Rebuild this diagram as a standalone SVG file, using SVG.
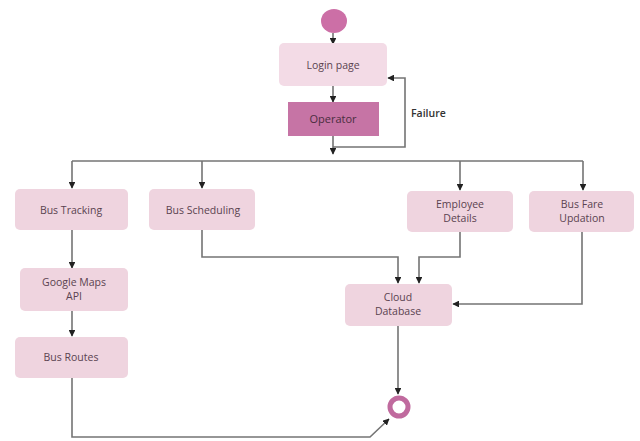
<svg xmlns="http://www.w3.org/2000/svg" width="640" height="441" viewBox="0 0 640 441">
  <defs>
    <marker id="arr" viewBox="0 0 10 10" refX="9" refY="5" markerWidth="4.2" markerHeight="4.2" orient="auto-start-reverse">
      <path d="M0,0 L10,5 L0,10 z" fill="#222"/>
    </marker>
    <style>
      .box { fill: #efd4df; }
      .box-light { fill: #f3dbe6; }
      .box-dark { fill: #c674a5; }
      .lbl { font-family: "Open Sans", "Noto Sans", sans-serif; font-size: 10.5px; fill: #5a4350; text-anchor: middle; }
      .wire { fill: none; stroke: #747474; stroke-width: 1.6; }
      .wire-a { fill: none; stroke: #747474; stroke-width: 1.6; marker-end: url(#arr); }
    </style>
  </defs>
  <rect width="640" height="441" fill="#ffffff"/>

  <g id="connectors">
    <!-- main spine -->
    <path class="wire-a" d="M333,33 V44"/>
    <path class="wire-a" d="M333,86 V102"/>
    <path class="wire-a" d="M333,136 V154"/>
    <!-- failure loop back to login -->
    <path class="wire-a" d="M333,147 H405 V78 H388"/>
    <!-- fan-out bus -->
    <path class="wire" d="M72,161 H583"/>
    <path class="wire-a" d="M72,161 V188"/>
    <path class="wire-a" d="M202,161 V188"/>
    <path class="wire-a" d="M460,161 V190"/>
    <path class="wire-a" d="M583,161 V190"/>
    <!-- tracking chain -->
    <path class="wire-a" d="M72,230 V268"/>
    <path class="wire-a" d="M72,311 V336"/>
    <!-- into cloud database -->
    <path class="wire-a" d="M202,230 V257 H398 V283"/>
    <path class="wire-a" d="M460,232 V257 H419 V283"/>
    <path class="wire-a" d="M582,232 V304 H453"/>
    <!-- to end -->
    <path class="wire-a" d="M398,326 V394"/>
    <path class="wire-a" d="M72,378 V437 H370 L389,419"/>
  </g>

  <g id="start">
    <ellipse cx="334" cy="21" rx="13" ry="12" fill="#cc6fa6"/>
  </g>

  <g id="login">
    <rect class="box-light" x="279" y="43" width="108" height="43" rx="5"/>
    <text class="lbl" x="333" y="68.5">Login page</text>
  </g>

  <g id="operator">
    <rect class="box-dark" x="288" y="102" width="91" height="34"/>
    <text class="lbl" x="333" y="123" style="font-size:11px;fill:#4a2d3e">Operator</text>
  </g>

  <g id="failure-label">
    <text x="411" y="117" style="font-family:'Open Sans','Noto Sans',sans-serif;font-size:10.5px;fill:#333;font-weight:600">Failure</text>
  </g>

  <g id="bus-tracking">
    <rect class="box" x="15" y="189" width="113" height="41" rx="5"/>
    <text class="lbl" x="71" y="213.5">Bus Tracking</text>
  </g>

  <g id="bus-scheduling">
    <rect class="box" x="149" y="189" width="106" height="41" rx="5"/>
    <text class="lbl" x="203" y="213.5">Bus Scheduling</text>
  </g>

  <g id="employee-details">
    <rect class="box" x="407" y="191" width="106" height="41" rx="5"/>
    <text class="lbl" x="460" y="208">Employee</text>
    <text class="lbl" x="460" y="222">Details</text>
  </g>

  <g id="bus-fare">
    <rect class="box" x="529" y="191" width="105" height="41" rx="5"/>
    <text class="lbl" x="582" y="208">Bus Fare</text>
    <text class="lbl" x="582" y="222">Updation</text>
  </g>

  <g id="google-maps">
    <rect class="box" x="20" y="268" width="108" height="43" rx="5"/>
    <text class="lbl" x="74" y="286">Google Maps</text>
    <text class="lbl" x="74" y="300">API</text>
  </g>

  <g id="bus-routes">
    <rect class="box" x="15" y="337" width="113" height="41" rx="5"/>
    <text class="lbl" x="71" y="361">Bus Routes</text>
  </g>

  <g id="cloud-database">
    <rect class="box" x="345" y="284" width="107" height="42" rx="5"/>
    <text class="lbl" x="398" y="301">Cloud</text>
    <text class="lbl" x="398" y="315">Database</text>
  </g>

  <g id="end">
    <circle cx="399" cy="407" r="9" fill="#ffffff" stroke="#c06a9e" stroke-width="5"/>
  </g>
</svg>
